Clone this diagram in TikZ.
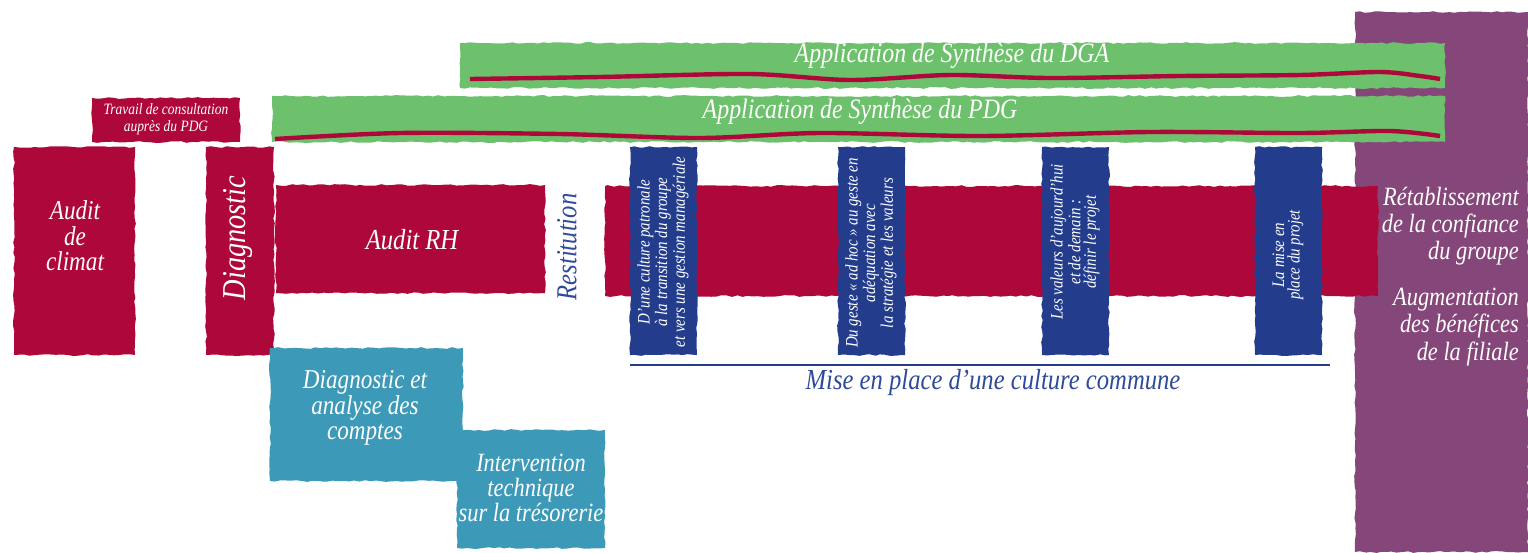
\documentclass[tikz,border=0pt]{standalone}
\usepackage{fontspec}
\setmainfont{Liberation Serif}[FakeStretch=0.85]
\usetikzlibrary{positioning,calc,decorations.pathmorphing}

\definecolor{crimson}{RGB}{173,8,57}
\definecolor{leaf}{RGB}{109,192,108}
\definecolor{navy}{RGB}{35,61,140}
\definecolor{teal}{RGB}{61,153,184}
\definecolor{plum}{RGB}{133,70,122}
\definecolor{inkblue}{RGB}{46,74,154}

\tikzset{
    rough/.style={decorate, decoration={random steps, segment length=3pt, amplitude=0.5pt}},
    lbl/.style={text=white, font=\itshape, align=center},
}

\begin{document}
\begin{tikzpicture}[x=0.02cm, y=-0.02cm]
    \pgfmathsetseed{7}
    \useasboundingbox (0,0) rectangle (1528,552);

    % Purple result column
    \fill[plum, rough] (1355,12) rectangle (1528,552);

    % Green synthesis bars
    \fill[leaf, rough] (460,43) rectangle (1445,88);
    \draw[crimson, line width=2.5pt] plot[smooth] coordinates {(470,79) (600,77) (750,74) (850,80) (950,75) (1050,78) (1180,76) (1300,75) (1380,72) (1420,76) (1440,79)};
    \node[lbl, font=\itshape\fontsize{16}{18}\selectfont] (dga) at (952,56) {Application de Synthèse du DGA};

    \fill[leaf, rough] (272,96) rectangle (1445,142);
    \draw[crimson, line width=2.5pt] plot[smooth] coordinates {(275,139) (400,133) (560,134) (700,138) (820,133) (980,136) (1150,132) (1300,133) (1390,131) (1440,136)};
    \node[lbl, font=\itshape\fontsize{16}{18}\selectfont] (pdg) at (860,112) {Application de Synthèse du PDG};

    % Consultation work
    \fill[crimson, rough] (92,98) rectangle (240,142);
    \node[lbl, font=\itshape\fontsize{9}{9.5}\selectfont] (travail) at (166,119) {Travail de consultation\\auprès du PDG};

    % Audit de climat and diagnostic
    \fill[crimson, rough] (14,147) rectangle (135,355);
    \node[lbl, font=\itshape\fontsize{15.5}{14.5}\selectfont] (climat) at (75,236) {Audit\\de\\climat};

    \fill[crimson, rough] (206,147) rectangle (274,355);
    \node[lbl, rotate=90, font=\itshape\fontsize{19}{20}\selectfont] (diag) at (238,238) {Diagnostic};

    \fill[crimson, rough] (276,185) rectangle (545,293);
    \node[lbl, font=\itshape\fontsize{16.5}{18}\selectfont] (auditrh) at (412,240) {Audit RH};

    \node[rotate=90, text=inkblue, font=\itshape\fontsize{16.5}{18}\selectfont] (restit) at (567,247) {Restitution};

    % Long culture bar
    \fill[crimson, rough] (605,186) rectangle (1378,296);

    % Blue steps
    \foreach \bx/\ty/\txt [count=\i] in {
        630/252/{D'une culture patronale\\à la transition du groupe\\et vers une gestion managériale},
        838/253/{Du geste « ad hoc » au geste en\\adéquation avec\\la stratégie et les valeurs},
        1042/242/{Les valeurs d'aujourd'hui\\et de demain :\\définir le projet},
        1255/255/{La mise en\\place du projet}} {
        \fill[navy, rough] (\bx,147) rectangle ++(67,208);
        \node[lbl, rotate=90, font=\itshape\fontsize{10}{8.8}\selectfont] (step\i) at (\bx+33,\ty) {\txt};
    }

    \coordinate (lineL) at (630,365);
    \coordinate (lineR) at (1330,365);
    \draw[navy, line width=0.8pt] (lineL) -- (lineR);
    \node[text=inkblue, font=\itshape\fontsize{16.5}{18}\selectfont] (commune) at (993,383) {Mise en place d'une culture commune};

    % Accounts work
    \fill[teal, rough] (270,348) rectangle (463,481);
    \node[lbl, font=\itshape\fontsize{15.5}{14.5}\selectfont] (comptes) at (365,408) {Diagnostic et\\analyse des\\comptes};

    \fill[teal, rough] (457,430) rectangle (605,548);
    \node[lbl, font=\itshape\fontsize{15}{14}\selectfont] (treso) at (531,488) {Intervention\\technique\\sur la trésorerie};

    % Results
    \node[lbl, align=right, anchor=east, font=\itshape\fontsize{15}{15.5}\selectfont] (confiance) at (1525,226) {Rétablissement\\de la confiance\\du groupe};
    \node[lbl, align=right, anchor=east, font=\itshape\fontsize{15}{15.5}\selectfont] (benef) at (1525,327) {Augmentation\\des bénéfices\\de la filiale};
\end{tikzpicture}
\end{document}
